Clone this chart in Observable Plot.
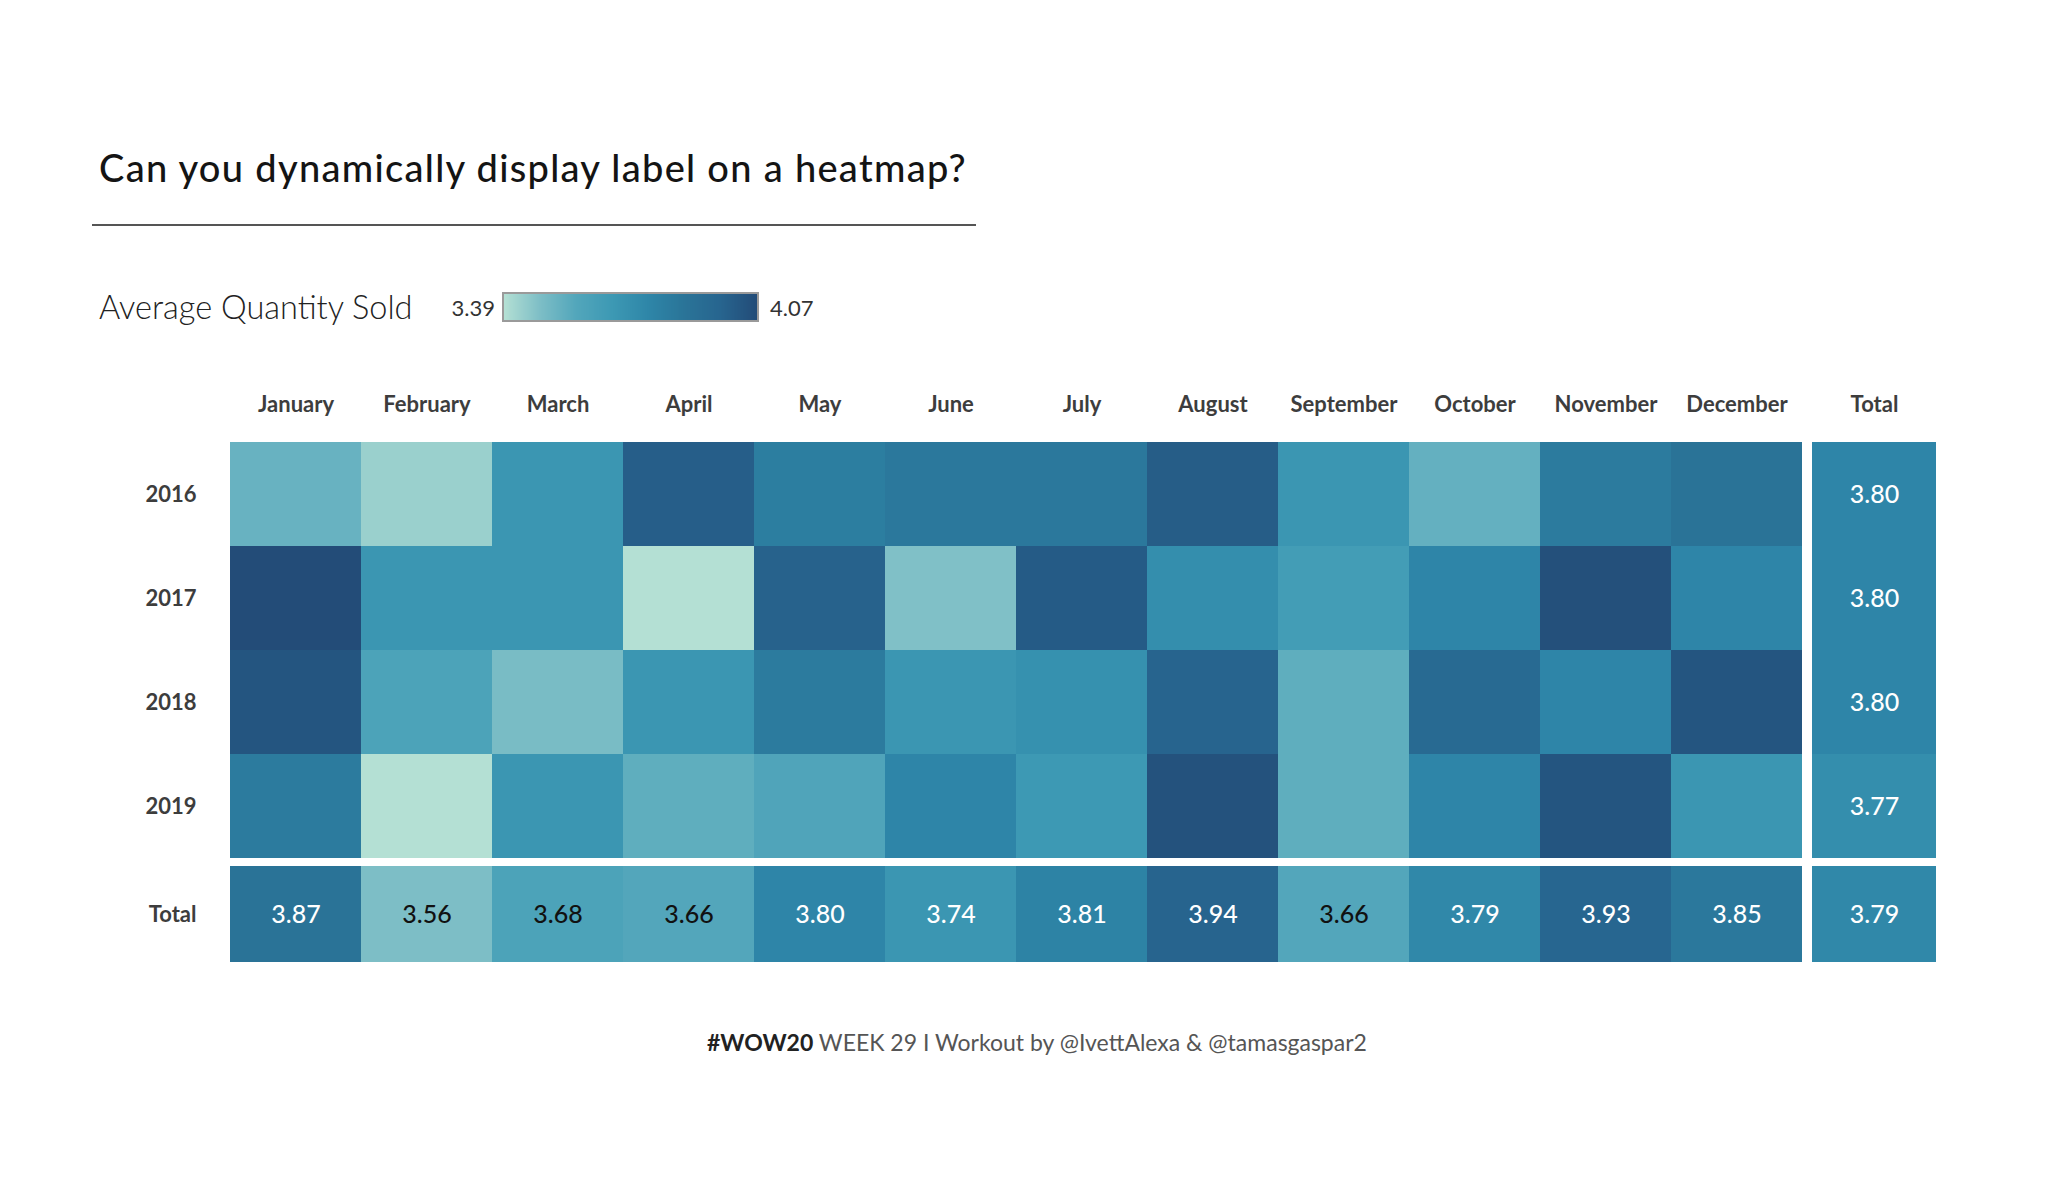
<!DOCTYPE html>
<html><head><meta charset="utf-8">
<script src="https://cdn.jsdelivr.net/npm/d3@7"></script>
<script src="https://cdn.jsdelivr.net/npm/@observablehq/plot@0.6"></script>
<style>
body{margin:0;background:#fff;font-family:Lato,sans-serif;}
#page{position:relative;width:2058px;height:1204px;overflow:hidden;background:#fff;}
.abs{position:absolute;white-space:nowrap;}
</style></head><body><div id="page"></div>
<script>
// ---- data ----
const months = ["January","February","March","April","May","June","July","August","September","October","November","December"];
const years = ["2016","2017","2018","2019"];
const v2016 = [3.61,3.47,3.74,3.97,3.83,3.85,3.85,3.98,3.74,3.62,3.84,3.87];
const v2017 = [4.07,3.74,3.74,3.39,3.95,3.55,3.99,3.77,3.71,3.80,4.05,3.80];
const v2018 = [4.02,3.68,3.57,3.74,3.84,3.74,3.76,3.94,3.63,3.91,3.80,4.02];
const v2019 = [3.84,3.39,3.74,3.63,3.67,3.80,3.73,4.04,3.63,3.80,4.02,3.74];
const monthTotals = [3.87,3.56,3.68,3.66,3.80,3.74,3.81,3.94,3.66,3.79,3.93,3.85];
const yearTotals = [3.80,3.80,3.80,3.77];
const grandTotal = 3.79;
const legendMin = 3.39, legendMax = 4.07;
const colorStops = ["#b4e0d4","#7dbec6","#52a6bb","#3d99b4","#2e86a8","#2a7498","#27658f","#234c78"];
const stopPos = [0,0.25,0.4,0.5,0.6,0.7,0.8,1];
const totalLabel = "Total";

// ---- derived tables ----
const yearValues = [v2016,v2017,v2018,v2019];
const cells = years.flatMap((y,i)=>yearValues[i].map((v,j)=>({year:y, month:months[j], value:v})));
const colTotals = months.map((m,j)=>({month:m, row:totalLabel, value:monthTotals[j]}));
const rowTotals = years.map((y,i)=>({year:y, col:totalLabel, value:yearTotals[i]}));
const corner = [{col:totalLabel,row:totalLabel,value:grandTotal}];

const colorOpt = () => ({type:"linear", domain: stopPos.map(t=>legendMin+t*(legendMax-legendMin)), range: colorStops, interpolate:"rgb"});
const dark = d => d.value < 3.71;
const fmt = d => d.value.toFixed(2);
const axisStyle = {fontFamily:"Lato", fontSize:"22px", fontWeight:700, color:"#3d3d3d", background:"transparent", overflow:"visible"};

const page = document.getElementById("page");
function place(el, left, top){ el.style.position="absolute"; el.style.left=left+"px"; el.style.top=top+"px"; page.appendChild(el); return el; }
function label(text, left, cy, css, h){ const d=document.createElement("div"); d.className="abs"; d.innerHTML=text; d.style.cssText += css; d.style.left=left+"px"; d.style.top=(cy-h/2)+"px"; d.style.lineHeight=h+"px"; d.style.height=h+"px"; page.appendChild(d); return d; }

const GX = 228, GY = 442, CW = 1576, RH = 416, TW = 124, TH = 96, GAP = 8;
const ML = 100, MT = 60;

function labels(data, x, y){
  return [
    Plot.text(data, {x, y, text: fmt, filter: dark, fill:"#111", fontSize:25, fontWeight:500, fontFamily:"Lato"}),
    Plot.text(data, {x, y, text: fmt, filter: d=>!dark(d), fill:"#fff", fontSize:25, fontWeight:500, fontFamily:"Lato"})
  ];
}

// main heatmap
const main = Plot.plot({
  width: ML+CW, height: MT+RH, marginLeft: ML, marginTop: MT, marginRight: 0, marginBottom: 0,
  x: {domain: months, padding: 0, axis: "top", tickSize: 0, tickPadding: 31, label: null},
  y: {domain: years, padding: 0, tickSize: 0, tickPadding: 32, label: null},
  color: colorOpt(),
  style: axisStyle,
  marks: [Plot.cell(cells, {x:"month", y:"year", fill:"value", inset:0, shapeRendering:"crispEdges"})]
});
place(main, GX-ML, GY-MT);

// total column
const tcol = Plot.plot({
  width: TW, height: MT+RH, marginLeft: 0, marginTop: MT, marginRight: 0, marginBottom: 0,
  x: {domain: [totalLabel], padding: 0, axis: "top", tickSize: 0, tickPadding: 31, label: null},
  y: {domain: years, padding: 0, axis: null},
  color: colorOpt(),
  style: axisStyle,
  marks: [Plot.cell(rowTotals, {x:"col", y:"year", fill:"value", inset:0, shapeRendering:"crispEdges"}), ...labels(rowTotals, "col", "year")]
});
place(tcol, GX+CW+GAP, GY-MT);

// total row
const trow = Plot.plot({
  width: ML+CW, height: TH, marginLeft: ML, marginTop: 0, marginRight: 0, marginBottom: 0,
  x: {domain: months, padding: 0, axis: null},
  y: {domain: [totalLabel], padding: 0, tickSize: 0, tickPadding: 32, label: null},
  color: colorOpt(),
  style: axisStyle,
  marks: [Plot.cell(colTotals, {x:"month", y:"row", fill:"value", inset:0, shapeRendering:"crispEdges"}), ...labels(colTotals, "month", "row")]
});
place(trow, GX-ML, GY+RH+GAP);

// corner
const tcorner = Plot.plot({
  width: TW, height: TH, margin: 0,
  x: {domain: [totalLabel], padding: 0, axis: null},
  y: {domain: [totalLabel], padding: 0, axis: null},
  color: colorOpt(),
  style: axisStyle,
  marks: [Plot.cell(corner, {x:"col", y:"row", fill:"value", inset:0, shapeRendering:"crispEdges"}), ...labels(corner, "col", "row")]
});
place(tcorner, GX+CW+GAP, GY+RH+GAP);

// title, rule, legend, footer
label("Can you dynamically display label on a heatmap?", 99, 167, "font-family:Lato;font-weight:500;font-size:38px;letter-spacing:1.3px;color:#141414;", 50);
const rule = document.createElement("div"); rule.style.cssText="position:absolute;left:92px;top:224px;width:884px;height:0;border-top:2px solid #555;"; page.appendChild(rule);
label("Average Quantity Sold", 99, 307, "font-family:Lato;font-weight:300;font-size:32.5px;color:#222;", 40);
label(legendMin.toFixed(2), 0, 308, "font-family:Lato;font-size:22px;color:#333;text-align:right;width:495px;", 30);
label(legendMax.toFixed(2), 770, 308, "font-family:Lato;font-size:22px;color:#333;", 30);
const leg = Plot.legend({color: colorOpt(), width: 253, height: 26, marginTop: 0, marginBottom: 0, marginLeft: 0, marginRight: 0, ticks: [], tickSize: 0, label: null});
const legBox = document.createElement("div");
legBox.style.cssText = "position:absolute;left:502px;top:292px;width:253px;height:26px;border:2px solid #9a9a9a;overflow:hidden;line-height:0;";
leg.style.display="block"; leg.style.margin="0";
legBox.appendChild(leg); page.appendChild(legBox);
label("<b style='color:#222;font-weight:700'>#WOW20</b> WEEK 29 I Workout by @IvettAlexa &amp; @tamasgaspar2", 707, 1042, "font-family:Lato;font-size:23px;color:#555;", 30);
</script></body></html>
